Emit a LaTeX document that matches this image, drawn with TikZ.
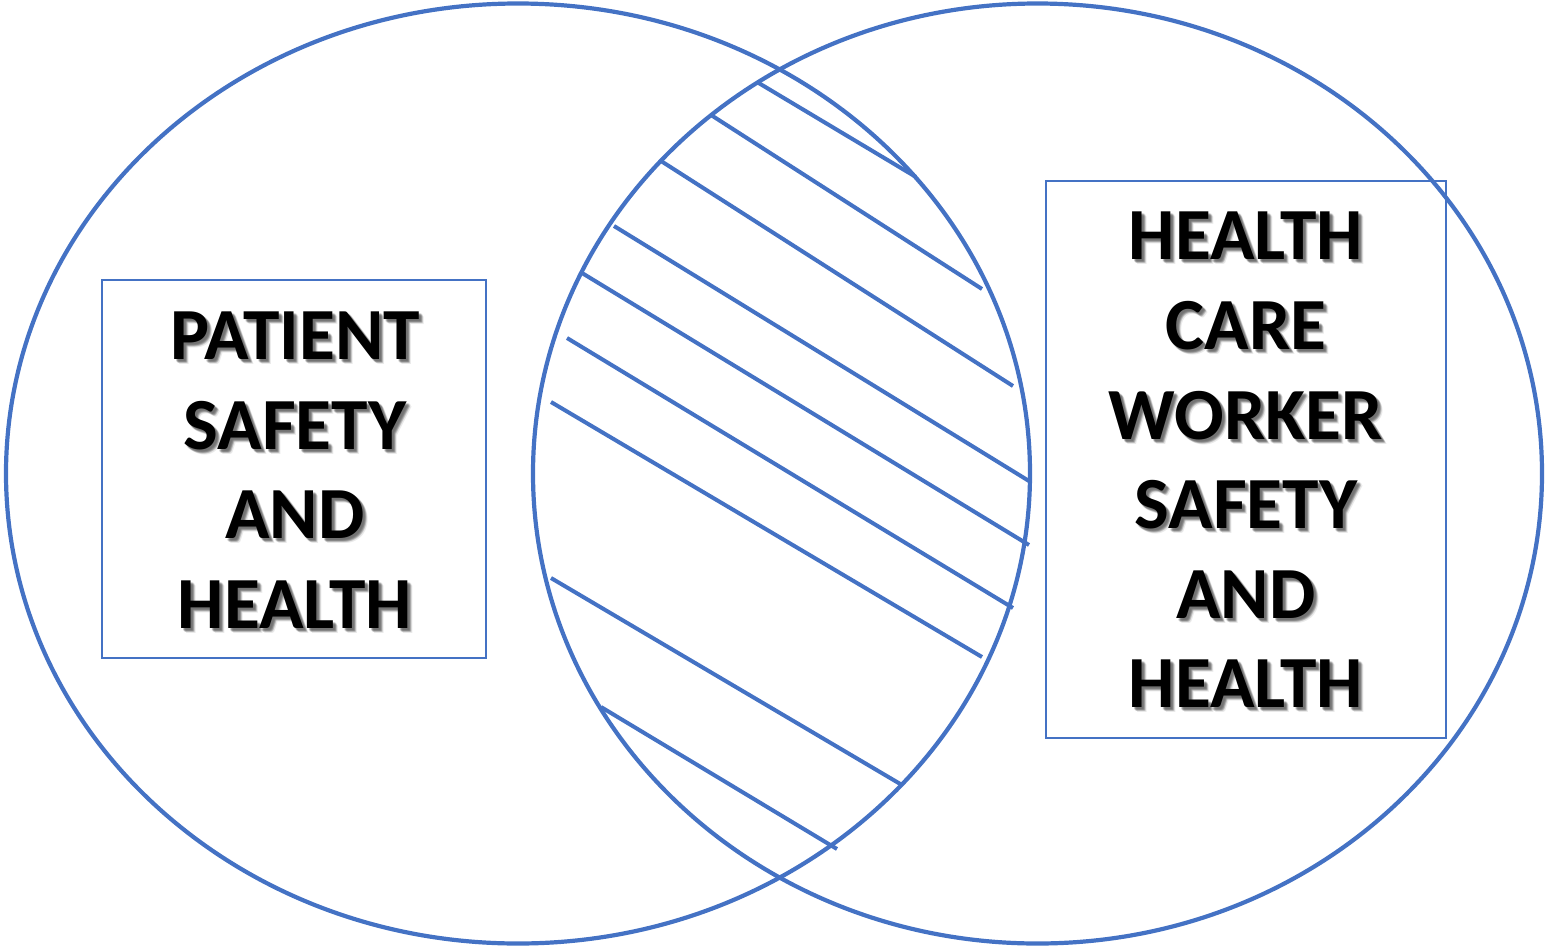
\documentclass[tikz,border=0pt]{standalone}
\usepackage{fontspec}
\setmainfont{Carlito}
\usetikzlibrary{shapes.geometric}
\definecolor{venn}{HTML}{4472C4}
\begin{document}
\begin{tikzpicture}[x=1pt,y=-1pt,
  ring/.style={draw=venn, line width=4.2pt, ellipse, inner sep=0pt, outer sep=0pt},
  frame/.style={draw=venn, line width=1.8pt, inner sep=0pt},
  hatch/.style={draw=venn, line width=4pt},
  caption/.style={font=\fontsize{73.5}{89.6}\selectfont\bfseries, align=center, inner sep=0pt},
  ]
\useasboundingbox (0,0) rectangle (1545,948);

% the two overlapping sets
\node[ring, minimum width=1024pt, minimum height=940pt] (setA) at (518,473.5) {};
\node[ring, minimum width=1009pt, minimum height=940pt] (setB) at (1037.5,473.5) {};

% hatching of the shared region
\draw[hatch] (757,82) -- (916,177);
\draw[hatch] (711,115) -- (982,289);
\draw[hatch] (661,161) -- (1013,386);
\draw[hatch] (614,226) -- (1029,481);
\draw[hatch] (582,273) -- (1029,545);
\draw[hatch] (567,338) -- (1013,608);
\draw[hatch] (551,402) -- (982,657);
\draw[hatch] (551,578) -- (902,785);
\draw[hatch] (601,707) -- (837,849);

% label frames
\node[frame, minimum width=384pt, minimum height=378pt] (boxA) at (294,469) {};
\node[frame, minimum width=400pt, minimum height=557pt] (boxB) at (1246,459.5) {};

% soft drop shadow behind the labels
\foreach \dx/\dy/\o [count=\i] in {2/2/0.22, 3/3/0.30, 4/4/0.22, 5/5/0.12, 3/2/0.12, 2/3/0.12, 4/3/0.12, 3/4/0.12} {
  \node[caption, text=black!70, opacity=\o] (shA\i) at (295+\dx,470+\dy) {PATIENT\\SAFETY\\AND\\HEALTH};
  \node[caption, text=black!70, opacity=\o] (shB\i) at (1246+\dx,460+\dy) {HEALTH\\CARE\\WORKER\\SAFETY\\AND\\HEALTH};
}

% labels
\node[caption] (textA) at (295,470) {PATIENT\\SAFETY\\AND\\HEALTH};
\node[caption] (textB) at (1246,460) {HEALTH\\CARE\\WORKER\\SAFETY\\AND\\HEALTH};
\end{tikzpicture}
\end{document}
